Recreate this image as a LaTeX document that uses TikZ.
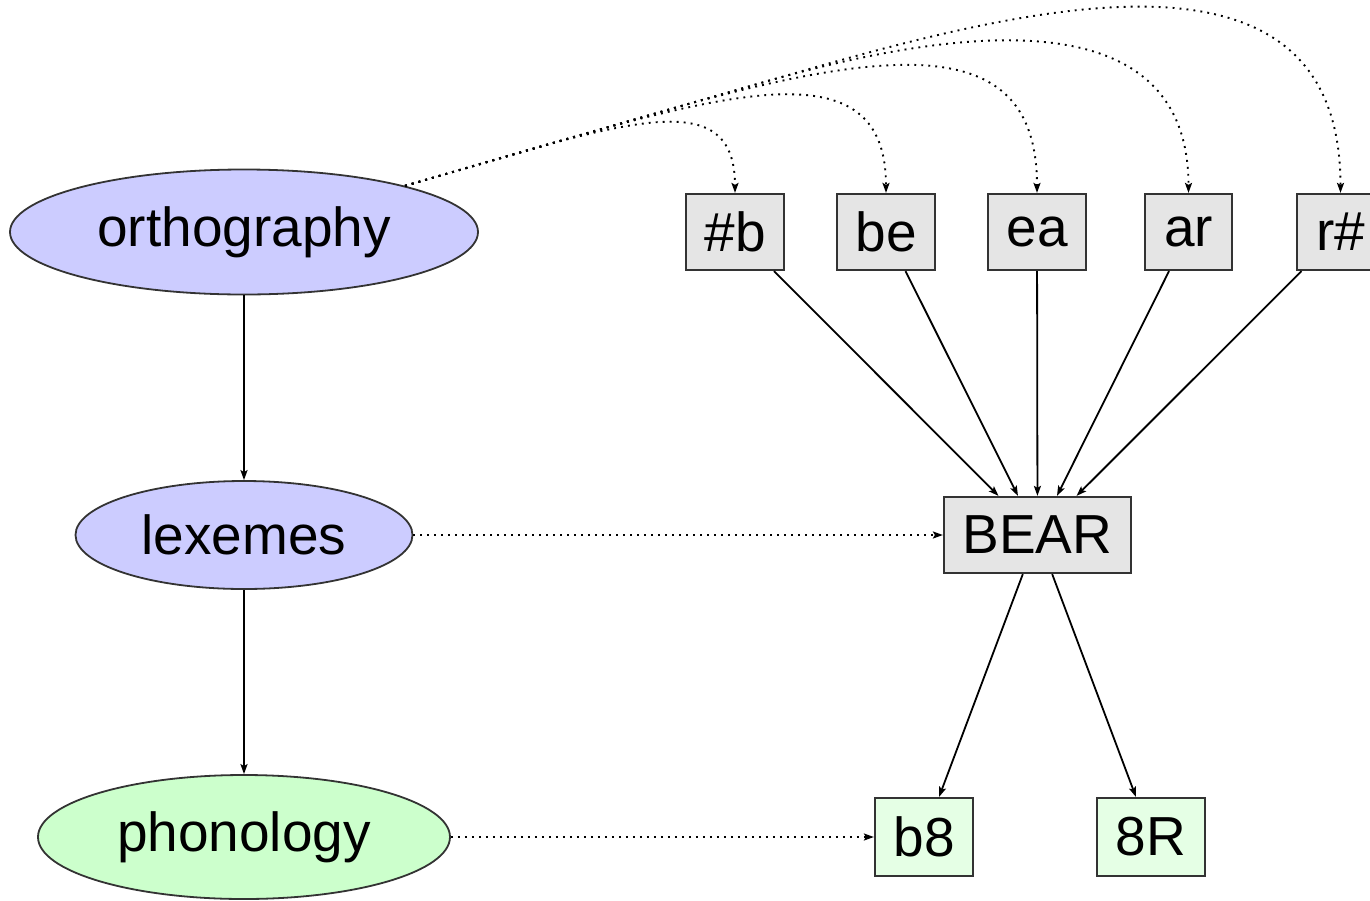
\documentclass[tikz,border=0pt]{standalone}
\usepackage{fontspec}
\setmainfont{Liberation Sans}
\usetikzlibrary{arrows.meta,shapes.geometric}
\definecolor{ellblue}{HTML}{CCCCFF}
\definecolor{ellgreen}{HTML}{CCFFCC}
\definecolor{boxgray}{HTML}{E5E5E5}
\definecolor{boxgreen}{HTML}{E5FFE5}
\definecolor{edgeline}{HTML}{333333}
\begin{document}
\begin{tikzpicture}[x=1pt,y=-1pt,
  lbl/.style={font=\fontsize{55}{60}\selectfont, inner sep=0pt, text=black},
  ell/.style={lbl, ellipse, draw=edgeline, line width=1.8pt},
  box/.style={lbl, rectangle, draw=edgeline, line width=2.2pt, minimum height=76pt},
  tip/.style={-{Stealth[length=10pt,width=7pt,inset=2pt]}},
  edge/.style={tip, line width=1.8pt},
  dots/.style={tip, line width=1.9pt, dash pattern=on 1.9pt off 5.1pt}]
\useasboundingbox (0,0) rectangle (1370,900);
% ellipses
\node[ell, fill=ellblue, minimum width=468pt, minimum height=125pt] (orth) at (244,232) {orthography};
\node[ell, fill=ellblue, minimum width=337pt, minimum height=108pt] (lex) at (244,535) {lexemes};
\node[ell, fill=ellgreen, minimum width=412pt, minimum height=124pt] (phon) at (244,837) {phonology};
% top boxes
\node[box, fill=boxgray, minimum width=98pt] (hb) at (735,232) {\#b};
\node[box, fill=boxgray, minimum width=98pt] (be) at (886,232) {be};
\node[box, fill=boxgray, minimum width=98pt] (ea) at (1037,232) {ea};
\node[box, fill=boxgray, minimum width=87pt] (ar) at (1188.5,232) {ar};
\node[box, fill=boxgray, minimum width=87pt] (rh) at (1340.5,232) {r\#};
% BEAR
\node[box, fill=boxgray, minimum width=187pt] (bear) at (1037.5,535) {BEAR};
% bottom boxes
\node[box, fill=boxgreen, minimum width=98pt, minimum height=78pt] (b8) at (924,837) {b8};
\node[box, fill=boxgreen, minimum width=108pt, minimum height=78pt] (r8) at (1151,837) {8R};
% solid edges
\draw[edge] (orth) -- (lex);
\draw[edge] (lex) -- (phon);
\foreach \n in {hb,be,ea,ar,rh} \draw[edge] (\n) -- (bear);
\draw[edge] (bear) -- (b8);
\draw[edge] (bear) -- (r8);
% dotted edges
\draw[dots] (lex) -- (bear);
\draw[dots] (phon) -- (b8);
\draw[dots] (orth.16) .. controls (620,123.5) and (735,80) .. (hb.north);
\draw[dots] (orth.16) -- (560,140.8) .. controls (760,83.2) and (886,60) .. (be.north);
\draw[dots] (orth.16) -- (660,112) .. controls (910,40) and (1037,40) .. (ea.north);
\draw[dots] (orth.16) -- (760,83.2) .. controls (1010,11.2) and (1188.5,20) .. (ar.north);
\draw[dots] (orth.16) -- (800,71.7) .. controls (1050,-0.3) and (1340.5,-66) .. (rh.north);
\end{tikzpicture}
\end{document}
